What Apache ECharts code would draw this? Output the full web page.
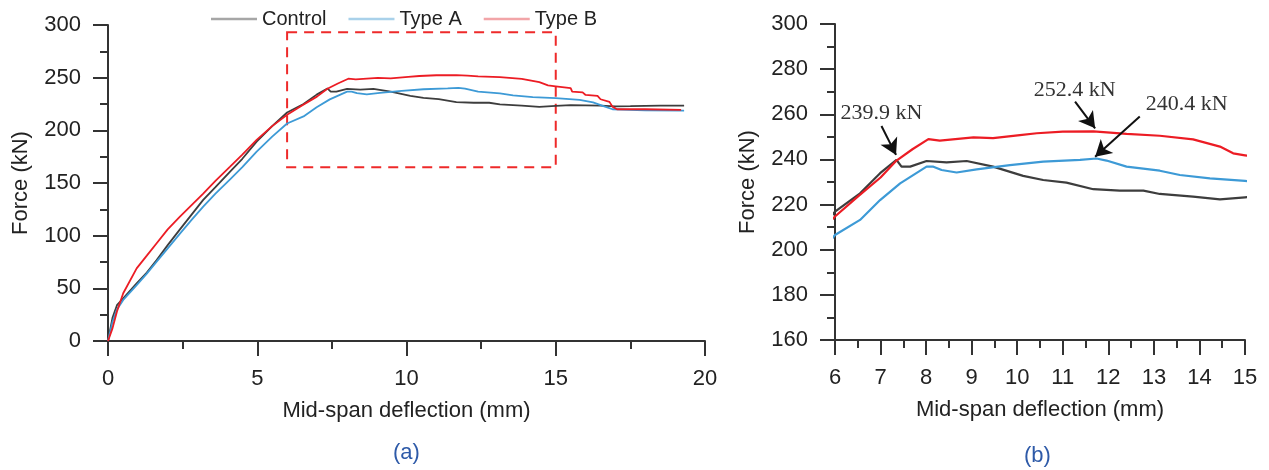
<!DOCTYPE html>
<html>
<head>
<meta charset="utf-8">
<script src="https://cdn.jsdelivr.net/npm/echarts@6/dist/echarts.min.js"></script>
<style>
  html, body { margin: 0; padding: 0; background: #fff; }
  #chart { width: 1269px; height: 470px; }
</style>
</head>
<body>
<div id="chart"></div>
<script>
// load-deflection curves, [deflection mm, force kN]
var controlData = [
  [0, 0], [0.15, 22], [0.3, 34], [0.51, 40.5], [0.96, 54.8], [1.3, 65], [1.63, 76.9], [2.0, 91],
  [2.41, 106], [2.8, 120], [3.19, 134], [3.6, 146], [4.09, 160.8], [4.5, 173], [4.98, 189.3],
  [5.5, 204], [6, 216.9], [6.55, 225], [6.99, 233.9], [7.35, 239.8], [7.46, 236.8], [7.65, 236.8],
  [8.01, 239.3], [8.45, 238.7], [8.89, 239.3], [9.47, 236.8], [10.13, 232.7], [10.57, 230.9],
  [11.08, 229.7], [11.67, 226.8], [12.25, 226.2], [12.77, 226.2], [13.13, 224.7], [13.86, 223.5],
  [14.45, 222.3], [15, 223.2], [15.5, 224], [16.5, 223.5], [17, 222.8], [17.5, 223], [18.5, 223.5],
  [19.3, 223.5]
];
var typeAData = [
  [0, 0], [0.15, 18], [0.3, 30], [0.51, 39], [0.96, 53], [1.3, 64], [1.63, 75.3], [2.0, 88],
  [2.41, 102], [2.8, 115], [3.19, 127.5], [3.6, 140], [4.09, 153.4], [4.5, 165], [4.98, 179.8],
  [5.5, 194], [6, 206.5], [6.55, 213.2], [6.99, 222], [7.43, 229.4], [8.01, 236.8], [8.16, 236.8],
  [8.34, 235.3], [8.67, 234.2], [9.11, 235.6], [9.84, 237.5], [10.57, 239], [11.38, 239.8],
  [11.74, 240.4], [11.96, 239.5], [12.4, 236.8], [13.13, 235], [13.57, 233.1], [14.23, 231.6],
  [15, 230.5], [15.8, 229], [16.25, 226.5], [16.6, 223], [16.9, 220], [18, 219], [19.3, 218.7]
];
var typeBData = [
  [0, 0], [0.15, 12], [0.3, 28], [0.51, 45.3], [0.96, 69], [1.3, 81], [1.63, 92.8], [2.0, 106],
  [2.41, 118], [2.8, 129], [3.19, 140], [3.6, 152], [4.09, 165.5], [4.5, 177], [4.98, 190.9],
  [5.5, 204], [6, 214.7], [6.5, 223.5], [7.0, 232], [7.35, 239.5], [7.7, 244.5], [8.05, 249],
  [8.3, 248.3], [9.04, 249.8], [9.47, 249.4], [10.06, 250.8], [10.43, 251.6],
  [11.0, 252.3], [11.67, 252.4], [12.04, 251.9], [12.4, 251.3], [13.13, 250.5], [13.86, 248.9],
  [14.45, 245.7], [14.74, 242.7], [15, 241.8], [15.5, 240], [15.55, 236.7], [15.9, 236],
  [16.0, 233.6], [16.4, 232.7], [16.5, 229.5], [16.8, 227], [16.9, 222.5], [17.05, 220],
  [18, 220], [19.2, 219.5]
];

var seriesNames = ['Control', 'Type A', 'Type B'];

// zoom window drawn on panel (a): [x0, y0, x1, y1]
var zoomBox = [6, 293, 15, 165];

// peak labels on panel (b): [text, label x, label y, arrow from x, y, arrow to x, y]
var peakNotes = [
  ['239.9 kN', 7.02, 260.6, 7.02, 254.8, 7.34, 242.0],
  ['252.4 kN', 11.26, 270.8, 11.27, 265.6, 11.71, 253.8],
  ['240.4 kN', 13.72, 264.6, 12.69, 259.0, 11.71, 241.2]
];

var colors = ['#3d3d3d', '#3d9ad6', '#ec1c24'];
var legendColors = ['#a6a6a6', '#a9d1ea', '#f2a5a8'];
var font = 'Liberation Sans, Arial, sans-serif';

function makeAxis(gridIndex, min, max, interval, name, isX) {
  return {
    type: 'value',
    gridIndex: gridIndex,
    min: min,
    max: max,
    interval: interval,
    name: name,
    nameLocation: 'middle',
    nameGap: isX ? 59 : 76,
    nameTextStyle: { fontFamily: font, fontSize: 22, color: '#222' },
    axisLine: { show: true, onZero: false, lineStyle: { color: '#333', width: 2 } },
    axisTick: { show: true, inside: false, length: 15, lineStyle: { color: '#333', width: 2 } },
    minorTick: { show: true, splitNumber: 2, length: 8, lineStyle: { color: '#333', width: 2 } },
    axisLabel: { fontFamily: font, fontSize: 22, color: '#222', margin: 27 },
    splitLine: { show: false }
  };
}

var chart = echarts.init(document.getElementById('chart'));

var series = [];
var allData = [controlData, typeAData, typeBData];
allData.forEach(function (d, i) {
  series.push({
    name: seriesNames[i], type: 'line', xAxisIndex: 0, yAxisIndex: 0,
    data: d, symbol: 'none', animation: false,
    lineStyle: { color: colors[i], width: 1.8 }, itemStyle: { color: colors[i] }
  });
  series.push({
    name: seriesNames[i], type: 'line', xAxisIndex: 1, yAxisIndex: 1,
    data: d, symbol: 'none', animation: false, clip: true,
    lineStyle: { color: colors[i], width: 2.2 }, itemStyle: { color: colors[i] }
  });
});

// dashed box
series[0].markArea = {
  silent: true,
  itemStyle: { color: 'rgba(0,0,0,0)', borderColor: '#ee2a2a', borderWidth: 2, borderType: [10, 7] },
  data: [[{ coord: [zoomBox[0], zoomBox[1]] }, { coord: [zoomBox[2], zoomBox[3]] }]]
};

// peak arrows and labels on panel (b)
series.push({
  type: 'scatter', xAxisIndex: 1, yAxisIndex: 1, data: [], silent: true,
  markLine: {
    silent: true, symbol: ['none', 'arrow'], symbolSize: [14, 16],
    lineStyle: { color: '#111', width: 2, type: 'solid' },
    label: { show: false },
    data: peakNotes.map(function (p) {
      return [{ coord: [p[3], p[4]] }, { coord: [p[5], p[6]] }];
    })
  },
  markPoint: {
    silent: true, symbol: 'circle', symbolSize: 0,
    label: {
      show: true, position: 'inside', fontFamily: 'Liberation Serif, Times New Roman, serif',
      fontSize: 22, color: '#333', formatter: function (p) { return p.name; }
    },
    data: peakNotes.map(function (p) {
      return { name: p[0], coord: [p[1], p[2]] };
    })
  }
});

var option = {
  animation: false,
  backgroundColor: '#fff',
  legend: {
    left: 206, top: 4,
    itemWidth: 46, itemHeight: 14, itemGap: 22,
    textStyle: { fontFamily: font, fontSize: 20, color: '#222' },
    data: seriesNames.map(function (n, i) {
      return { name: n, icon: 'path://M0,0 L46,0 L46,2.5 L0,2.5 Z', itemStyle: { color: legendColors[i] } };
    })
  },
  grid: [
    { left: 108, right: 564, top: 25, bottom: 129 },
    { left: 835, right: 24, top: 24, bottom: 130 }
  ],
  xAxis: [
    makeAxis(0, 0, 20, 5, 'Mid-span deflection (mm)', true),
    makeAxis(1, 6, 15, 1, 'Mid-span deflection (mm)', true)
  ],
  yAxis: [
    makeAxis(0, 0, 300, 50, 'Force (kN)', false),
    makeAxis(1, 160, 300, 20, 'Force (kN)', false)
  ],
  title: [
    { text: '(a)', left: 388, top: 437, textStyle: { fontFamily: font, fontSize: 22, fontWeight: 'normal', color: '#2e5aa8' } },
    { text: '(b)', left: 1019, top: 440, textStyle: { fontFamily: font, fontSize: 22, fontWeight: 'normal', color: '#2e5aa8' } }
  ],
  series: series
};

chart.setOption(option);
</script>
</body>
</html>
